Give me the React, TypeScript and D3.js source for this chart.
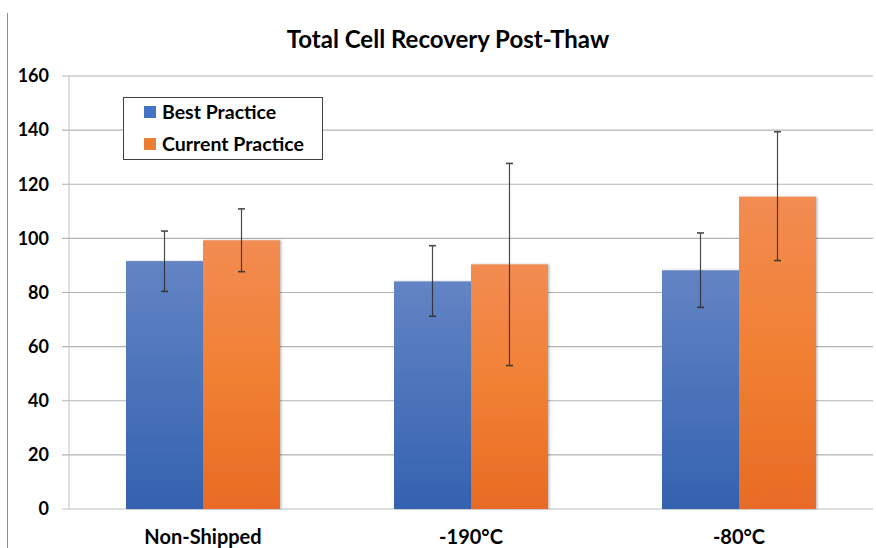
import React from "react";
import * as d3 from "d3";

const categories = ["Non-Shipped", "-190°C", "-80°C"];
const seriesNames = ["Best Practice", "Current Practice"];
const bestValues = [91.6, 84.1, 88.2];
const currentValues = [99.3, 90.4, 115.4];
const bestErrLow = [80.4, 71.2, 74.5];
const bestErrHigh = [102.7, 97.3, 102.0];
const currentErrLow = [87.7, 53.0, 91.8];
const currentErrHigh = [110.9, 127.7, 139.4];
const yTicks = [0, 20, 40, 60, 80, 100, 120, 140, 160];

const W = 876;
const H = 548;
const left = 69;
const right = 873;
const top = 76;
const bottom = 509;
const font = "Lato, 'Open Sans', sans-serif";

export default function App() {
  const x = d3.scaleBand<string>().domain(categories).range([left, right]).paddingInner(0).paddingOuter(0);
  const y = d3.scaleLinear().domain([0, 160]).range([bottom, top]);
  const bw = 77;
  const series = [
    { name: seriesNames[0], values: bestValues, lo: bestErrLow, hi: bestErrHigh, grad: "gBlue", sw: "#4472C4" },
    { name: seriesNames[1], values: currentValues, lo: currentErrLow, hi: currentErrHigh, grad: "gOrange", sw: "#ED7D31" },
  ];
  return (
    <svg width={W} height={H} style={{ position: "absolute", left: 0, top: 0, background: "#fff" }}>
      <defs>
        <linearGradient id="gBlue" x1="0" y1="0" x2="0" y2="1">
          <stop offset="0" stopColor="#6384C4" />
          <stop offset="1" stopColor="#3462B0" />
        </linearGradient>
        <linearGradient id="gOrange" x1="0" y1="0" x2="0" y2="1">
          <stop offset="0" stopColor="#F28C52" />
          <stop offset="0.5" stopColor="#F18033" />
          <stop offset="1" stopColor="#E86B25" />
        </linearGradient>
        <filter id="sh" x="-10%" y="-10%" width="130%" height="120%">
          <feDropShadow dx="1.5" dy="0" stdDeviation="1.2" floodColor="#000" floodOpacity="0.25" />
        </filter>
      </defs>
      <rect x={0} y={0} width={W} height={H} fill="#fff" />
      <line x1={7.5} x2={7.5} y1={13} y2={H} stroke="#8c8c8c" strokeWidth={1} />
      {yTicks.map((t) => (
        <g key={t}>
          <line x1={62} x2={right} y1={y(t)} y2={y(t)} stroke={t === 0 ? "#bfbfbf" : "#b3b3b3"} strokeWidth={1.2} />
          <text x={49} y={y(t)} dy="0.35em" textAnchor="end" fontFamily={font} fontWeight={700} fontSize={18} fill="#000">
            {t}
          </text>
        </g>
      ))}
      <line x1={left} x2={left} y1={top} y2={bottom} stroke="#bfbfbf" strokeWidth={1} />
      {categories.map((c, i) => {
        const cx = (x(c) as number) + x.bandwidth() / 2;
        return (
          <g key={c}>
            {series.map((s, j) => {
              const bx = cx - bw + j * bw;
              return (
                <rect key={s.name} x={bx} y={y(s.values[i])} width={bw} height={bottom - y(s.values[i])} fill={`url(#${s.grad})`} filter="url(#sh)" />
              );
            })}
            {series.map((s, j) => {
              const ex = cx - bw / 2 + j * bw;
              return (
                <g key={s.name + "e"} stroke="#2b2b2b" strokeWidth={1.2} opacity={0.85}>
                  <line x1={ex} x2={ex} y1={y(s.hi[i])} y2={y(s.lo[i])} />
                  <line x1={ex - 3.5} x2={ex + 3.5} y1={y(s.hi[i])} y2={y(s.hi[i])} strokeWidth={1.6} />
                  <line x1={ex - 3.5} x2={ex + 3.5} y1={y(s.lo[i])} y2={y(s.lo[i])} strokeWidth={1.6} />
                </g>
              );
            })}
            <text x={cx} y={537} dy="0.35em" textAnchor="middle" fontFamily={font} fontWeight={700} fontSize={20} fill="#000">
              {c}
            </text>
          </g>
        );
      })}
      <text x={448} y={40} dy="0.35em" textAnchor="middle" fontFamily={font} fontWeight={700} fontSize={24} fill="#000">
        Total Cell Recovery Post-Thaw
      </text>
      <rect x={123.5} y={97.5} width={199} height={62} fill="#fff" stroke="#404040" strokeWidth={1} />
      {series.map((s, j) => (
        <g key={s.name + "l"}>
          <rect x={144} y={106 + j * 32} width={12} height={12} fill={s.sw} />
          <text x={162} y={112 + j * 32} dy="0.35em" fontFamily={font} fontWeight={700} fontSize={19.5} fill="#000">
            {s.name}
          </text>
        </g>
      ))}
    </svg>
  );
}
